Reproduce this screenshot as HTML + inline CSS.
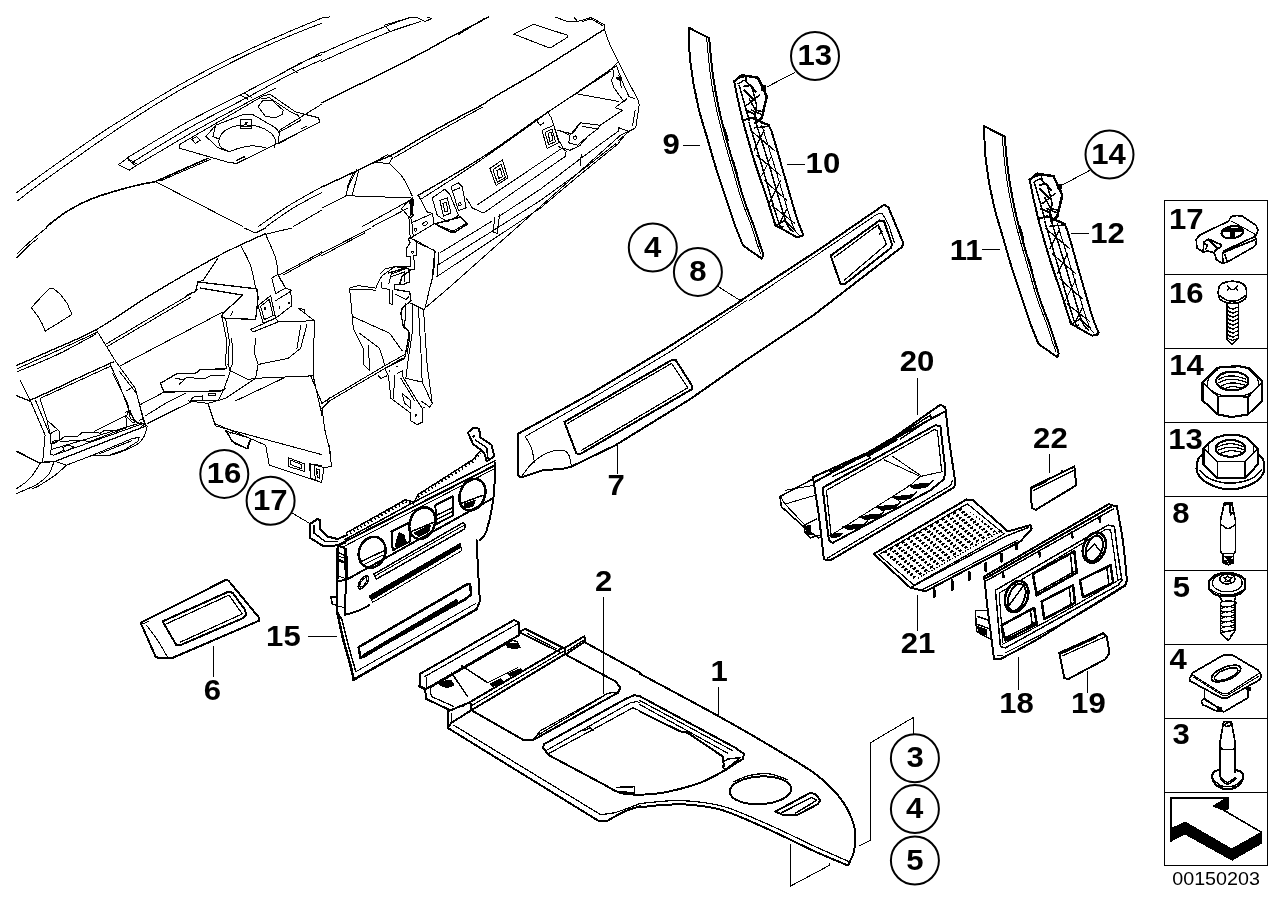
<!DOCTYPE html>
<html><head><meta charset="utf-8"><title>00150203</title>
<style>
html,body{margin:0;padding:0;background:#fff}
body{width:1288px;height:910px;overflow:hidden}
svg{display:block;will-change:transform}
text{font-family:"Liberation Sans",Arial,sans-serif;font-weight:bold;fill:#000;stroke:none}
.id{font-weight:normal}
path,circle,line,ellipse{stroke-linejoin:round;stroke-linecap:round}
</style></head><body>
<svg width="1288" height="910" viewBox="0 0 1288 910" fill="none" stroke="#000" shape-rendering="crispEdges">
<path fill="none" stroke="#000" stroke-width="1" d="M1231.7,221.1 1254.7,234.1M1193.8,677.3 1222.4,695.3 1227.4,695.3 1259.1,676.0M913.1,717.6 870.5,742.7 870.5,840.4 859.2,845.9M913.1,717.6 913.1,733.9M790.3,844.2 790.3,886.2 829.2,865.5 829.2,863.4M146.4,625.2C148.2,627.7 154.1,634.9 157.6,640.2C161.2,645.6 166.0,654.4 167.6,657.3M142.6,623.9 148.9,621.4M525.1,436.5 595.2,396.5 670.4,351.4 747.3,300.0M525.1,436.5C526.1,438.4 529.8,443.4 531.3,447.8C532.9,452.2 534.1,460.4 534.6,462.9M521.3,476.6C523.2,474.3 528.2,466.8 532.6,462.9C537.0,458.9 542.6,454.9 547.6,452.8C552.6,450.7 559.1,449.9 562.7,450.3C566.2,450.7 567.5,452.6 568.9,455.3C570.4,458.1 571.0,464.7 571.4,466.6M749.2,300.7 877.0,214.2 882.0,213.0M882.0,213.0 888.3,224.2 894.5,243.0M706.6,37.6C707.3,43.8 708.7,63.1 710.4,75.2C712.1,87.3 714.4,99.4 716.7,110.2C719.0,121.1 721.5,130.3 724.2,140.3C726.9,150.3 730.0,160.4 732.9,170.4C735.9,180.4 738.6,191.0 741.7,200.4C744.8,209.8 750.1,222.4 751.7,226.7M751.7,226.7C752.7,229.7 755.8,239.9 757.2,244.3C758.7,248.7 760.0,251.6 760.5,253.1M761.8,125.3C763.8,132.0 769.3,149.1 774.3,165.4C779.3,181.6 787.9,211.5 791.8,223.0C795.8,234.5 797.0,232.4 798.1,234.3M1002.1,136.1C1002.8,142.3 1004.2,161.6 1005.9,173.7C1007.6,185.8 1009.9,197.9 1012.2,208.7C1014.5,219.6 1017.0,228.8 1019.7,238.8C1022.4,248.8 1025.5,258.9 1028.4,268.9C1031.4,278.9 1034.1,289.5 1037.2,298.9C1040.3,308.3 1045.6,320.9 1047.2,325.2M1047.2,325.2C1048.2,328.2 1051.3,338.4 1052.7,342.8C1054.2,347.2 1055.5,350.1 1056.0,351.6M1057.3,223.8C1059.3,230.5 1064.8,247.6 1069.8,263.9C1074.8,280.1 1083.4,310.0 1087.3,321.5C1091.3,333.0 1092.5,330.9 1093.6,332.8M341.3,547.8 494.2,468.9M362.6,565.3 382.7,555.3M375.2,575.9 464.1,525.2M361.7,581.2A2.0,5.5 35 1 0 365.0,583.5A2.0,5.5 35 1 0 361.7,581.2ZM369.2,595.9 372.7,602.4 461.6,550.8 460.4,543.3 369.2,595.9M355.4,671.9 475.8,603.5M337.3,555.7 344.7,558.1M337.3,560.6 344.7,563.1M337.3,575.4 345.5,578.7M337.3,605.9 344.7,607.6M785.0,504.1 815.1,495.3M781.3,497.8 785.0,504.1 807.6,527.9M785.0,490.3 813.8,485.3M884.0,459.8 920.3,476.5 942.9,471.5M892.8,456.5 920.3,475.3M920.3,476.5 910.3,485.3M910.3,485.3 832.6,534.2M17.0,192.4C20.5,189.9 30.0,182.9 37.6,177.4C45.2,171.9 52.2,166.9 62.6,159.6C73.1,152.3 87.7,141.9 100.2,133.5C112.7,125.2 125.3,117.5 137.8,109.7C150.3,102.0 162.9,94.3 175.4,87.2C187.9,80.1 200.4,73.5 213.0,67.1C225.5,60.8 238.0,54.7 250.5,48.9C263.1,43.0 276.2,37.2 288.1,32.1C300.0,26.9 316.3,20.4 322.0,18.0M17.0,201.2C20.5,198.6 30.0,191.0 37.6,185.4C45.2,179.8 52.2,174.8 62.6,167.4C73.1,159.9 87.7,149.4 100.2,140.8C112.7,132.2 125.3,123.8 137.8,115.8C150.3,107.7 162.9,100.0 175.4,92.7C187.9,85.4 200.4,78.8 213.0,72.2C225.5,65.6 238.0,59.0 250.5,53.1C263.1,47.2 276.2,41.6 288.1,36.6C300.0,31.6 316.3,25.3 322.0,23.1M126.5,158.3C132.2,154.9 149.7,144.1 160.4,137.8C171.0,131.5 177.1,127.4 190.4,120.3C203.8,113.1 225.1,102.6 240.5,94.7C256.0,86.8 269.5,79.8 283.1,72.7C296.7,65.6 315.5,55.5 322.0,52.1M132.3,162.4C137.8,159.0 154.8,148.4 165.4,142.1C175.9,135.8 182.3,131.7 195.4,124.5C208.6,117.3 228.4,107.4 244.3,99.0C260.2,90.6 277.7,80.7 290.6,74.2C303.6,67.6 316.7,62.1 322.0,59.6M136.5,165.4C142.2,162.0 159.7,151.6 170.4,145.3C181.0,139.1 187.5,135.0 200.4,127.8C213.4,120.6 235.5,108.8 248.0,102.2C260.6,95.6 271.0,90.5 275.6,88.2M118.5,164.6 127.3,158.3 137.8,164.6 129.3,170.1ZM129.0,160.4 135.3,165.4M240.5,95.2 248.0,99.2M244.3,93.2 251.3,97.2M282.6,73.2 290.6,68.1 297.7,72.7M290.6,68.1C293.1,66.9 300.5,62.9 305.7,60.6C310.9,58.4 319.2,55.6 322.0,54.6M179.1,144.8 264.3,95.2 270.6,94.7 295.6,112.0 318.7,117.8 319.5,122.3 236.8,163.4 228.5,162.4 179.9,148.3 179.1,144.8M191.7,139.1 196.7,136.5 200.4,140.3 195.4,143.3 191.7,139.1M236.8,160.4 244.3,156.6 245.5,159.1M300.7,129.0 306.9,126.0M206.0,136.5 215.5,125.3 244.3,114.0 251.8,114.0 275.6,127.8 279.4,132.8 278.1,144.1M206.0,136.5 218.0,147.8 229.3,151.6M258.1,106.5 263.1,100.2 271.8,100.2 283.1,110.2 282.6,114.0M258.1,106.5 265.6,116.5 275.6,117.8 282.6,114.0M260.6,99.0 269.3,97.7 291.9,112.7 298.2,115.3M278.1,132.8 300.7,120.3 298.2,115.3M278.1,144.1 303.2,130.3M229.3,151.6C227.8,150.7 222.2,148.7 220.5,146.6C218.8,144.5 218.4,141.8 219.2,139.1C220.1,136.3 221.9,132.6 225.5,130.3C229.0,128.0 235.1,125.9 240.5,125.3C246.0,124.6 253.1,125.3 258.1,126.5C263.1,127.8 267.7,130.5 270.6,132.8C273.5,135.1 275.0,137.8 275.6,140.3C276.2,142.8 274.6,146.6 274.4,147.8M229.3,151.6C231.1,151.0 236.6,148.8 240.5,147.8C244.5,146.9 248.9,145.8 253.1,145.8C257.2,145.8 263.5,147.5 265.6,147.8M215.5,125.3 213.0,136.5 219.2,139.1M240.5,119.8 251.8,119.8 251.8,128.3 240.5,128.3ZM245.5,122.8A0.8,0.5 0 1 0 247.0,122.8A0.8,0.5 0 1 0 245.5,122.8ZM240.5,126.5 251.8,126.5M160.4,180.9 210.5,159.3M155.3,181.6 243.0,226.7M279.4,130.3 322.0,104.0M258.1,226.7C263.1,223.3 277.5,212.6 288.1,206.0C298.8,199.3 316.3,189.9 322.0,186.7M266.1,226.7C270.6,223.6 283.8,213.7 293.1,208.0C302.5,202.2 317.2,195.0 322.0,192.4M293.1,226.7 L322.0,210.0M17.0,253.8C19.4,251.6 26.4,244.8 31.3,240.5C36.2,236.2 43.8,230.1 46.4,228.0M17.0,257.6C18.8,255.8 24.1,250.0 27.6,246.8C31.0,243.6 35.9,239.9 37.6,238.5M31.3,307.7 40.1,298.2 49.6,288.6 53.1,288.1 60.1,294.1 67.1,303.2 71.9,314.4 58.9,322.7 45.1,331.2 42.6,324.5 37.6,315.7ZM17.0,368.8C23.0,366.1 39.2,358.9 52.6,352.8C66.1,346.6 90.2,335.4 97.7,332.0M17.0,371.8C23.8,368.9 44.6,360.7 57.6,354.5C70.7,348.3 88.9,337.8 95.2,334.5M96.5,330.2 115.3,360.8 135.3,388.4 142.8,418.4 146.6,425.9M106.5,343.8 187.9,295.6 197.9,289.4M107.7,346.3 190.4,297.4M120.3,365.8 223.0,311.9M40.1,398.4 110.2,366.3M110.2,364.5 117.8,380.8 130.3,413.4 136.5,422.2 145.3,424.7M112.7,373.3 127.8,403.4 130.3,418.4 136.5,422.2M119.0,370.8 136.5,393.4 144.1,420.9M126.5,390.9 132.8,387.1M125.3,412.2 130.3,410.9 134.0,420.9M240.5,245.0C242.2,248.5 248.0,258.4 250.5,265.6C253.1,272.8 254.7,284.4 255.6,288.1M265.6,234.3C267.3,238.2 273.5,251.2 275.6,258.1C277.7,265.0 277.7,272.7 278.1,275.6M195.4,291.9 197.9,281.9 202.9,280.6 218.0,258.1M186.7,295.6 190.4,293.1 195.4,291.9M225.5,318.2 229.3,340.7 228.0,364.5 230.5,370.8 224.2,388.4 218.0,400.9 202.9,400.9M221.7,315.7 226.7,340.7 225.5,364.5 226.7,368.8M233.0,310.7 230.5,315.7M231.8,338.2 233.0,363.3 229.3,370.8M175.4,378.3 182.9,379.6 186.7,377.8 205.5,378.3 210.5,375.8 224.2,375.8M179.1,384.6 184.2,379.6M202.9,400.9 190.4,400.9 192.9,397.1 202.9,395.9 202.9,400.9M208.0,393.4 215.5,393.4 215.5,395.9 208.0,395.9ZM145.3,415.9 165.4,403.4 185.4,393.4M147.8,423.4 192.9,400.9M140.3,404.6 164.1,392.1M250.5,329.5 275.6,318.2 278.1,322.0 253.1,332.0 250.5,329.5M255.6,338.2 254.3,353.3 258.1,364.5 255.6,378.3 248.0,379.6 230.5,370.8M258.1,364.5 288.1,358.3 300.7,348.3 306.9,324.5M278.1,322.0 314.4,320.7 313.2,375.8 255.6,378.3M298.2,308.2 314.4,320.7M290.6,289.4 291.9,305.7 275.6,318.2M298.2,308.2 304.4,309.4 304.4,313.2M313.2,375.8 322.0,415.9M255.6,378.3 225.5,398.4 208.0,403.4 187.9,400.9M283.1,378.3 235.5,400.9M300.7,325.7 296.9,348.3M271.8,278.1 278.1,274.4 285.6,288.1 275.6,293.6 271.8,278.1M258.1,305.7 270.6,295.6 275.6,318.2 263.1,323.2 258.1,305.7M260.6,306.2 269.3,299.4 273.1,315.7 264.3,319.5 260.6,306.2M264.6,308.7A0.5,1.0 0 1 0 265.6,308.7A0.5,1.0 0 1 0 264.6,308.7ZM275.6,300.7 291.9,290.6 290.6,289.4M279.1,307.7A0.3,0.5 0 1 0 279.6,307.7A0.3,0.5 0 1 0 279.1,307.7ZM288.6,302.7A0.3,0.5 0 1 0 289.1,302.7A0.3,0.5 0 1 0 288.6,302.7ZM278.1,275.6 322.0,251.8M283.1,275.1 322.0,253.6M265.6,234.3 291.9,228.0M244.3,228.0 255.6,233.0 265.6,228.0M278.1,275.6 285.6,288.1 291.9,290.6M208.0,403.4 215.5,425.9 322.0,454.7M225.5,430.9 250.5,438.5 246.8,448.5 234.3,443.5 225.5,430.9M230.1,433.5A0.4,0.5 0 1 0 230.9,433.5A0.4,0.5 0 1 0 230.1,433.5ZM310.7,375.8 322.0,403.4M319.5,403.4 322.0,414.7M215.5,423.8 265.6,445.1 269.3,465.1 322.0,482.7M226.7,430.1 231.8,441.3 248.0,448.9 250.5,440.1M288.1,457.6 304.4,463.9 304.4,471.4 288.1,466.4ZM290.6,460.1 301.9,464.6 301.9,468.9 290.6,464.6ZM309.4,463.9 322.0,465.6M309.4,463.9 310.7,478.9 322.0,482.7M314.4,465.6 315.2,479.7M317.4,472.7A0.3,0.8 0 1 0 317.9,472.7A0.3,0.8 0 1 0 317.4,472.7ZM260.6,443.1 265.6,445.1M329.0,445.1 331.5,466.4 324.0,467.6 321.5,482.7 310.2,477.7M309.5,463.9 324.0,467.6M310.2,463.9 310.2,477.7M316.5,468.9 317.3,477.7 319.8,478.2 319.3,469.7 316.5,468.9M20.0,380.0 30.1,400.0 45.1,435.1 42.6,462.1M35.7,400.7 49.5,433.9M40.1,398.8 47.0,420.1 59.5,431.4 59.5,440.1 51.4,443.9 50.7,454.5 53.9,455.2 63.9,450.2M50.1,433.9 50.7,443.9M47.0,420.1 50.1,433.9 56.4,430.1M52.0,441.4 56.4,440.4 56.6,442.6 52.4,443.9ZM60.1,440.1 63.9,437.0 77.7,436.4 82.1,432.6 94.0,432.0 100.2,433.2 104.0,430.7 114.0,430.7M60.1,442.0 77.7,440.1 90.2,441.4 126.5,427.6M94.6,431.4 125.9,415.7 126.5,427.6M51.4,449.5 141.6,422.6M53.9,455.2 144.1,423.2M62.6,447.6 68.3,445.1 73.9,447.0 65.1,451.4 62.6,447.6M129.0,410.1 126.5,416.3 132.8,422.6 135.3,422.0M139.1,420.1 142.8,419.5 145.3,423.8 141.6,426.4M147.2,426.4C146.7,428.0 145.6,433.5 144.1,436.4C142.5,439.3 140.9,441.6 137.8,443.9C134.7,446.2 129.9,448.3 125.3,450.2C120.7,452.0 115.7,454.3 110.2,455.2C104.8,456.0 95.6,455.2 92.7,455.2M92.7,455.2 132.8,438.3 139.1,437.6 137.8,441.4 124.0,450.2 110.2,454.5M99.0,453.9 131.5,440.8M55.1,461.4 66.4,465.2 92.7,455.2M40.1,463.3C38.8,465.3 35.1,472.0 32.6,475.2C30.1,478.4 27.7,480.5 25.1,482.7C22.4,484.9 18.3,487.4 16.9,488.4M53.9,462.1C53.0,464.0 51.6,470.3 48.9,474.0C46.1,477.6 42.9,480.7 37.6,484.0C32.3,487.2 20.4,491.8 16.9,493.4M66.4,465.2C64.5,466.9 59.9,471.7 55.1,475.2C50.3,478.8 41.3,484.3 37.6,486.5C33.8,488.7 33.4,488.0 32.6,488.4M322.0,18.0 329.5,17.0M322.0,53.1C327.4,50.7 343.9,43.3 354.6,38.8C365.2,34.4 376.9,29.8 385.9,26.3C394.9,22.8 404.7,19.4 408.4,18.0M408.4,18.0 417.2,17.5 424.7,21.5 431.5,18.8 427.2,17.0M322.0,61.4C327.8,58.8 345.8,50.5 357.1,45.6C368.4,40.7 379.0,35.9 389.6,31.8C400.3,27.8 415.7,23.1 421.0,21.3M385.9,26.3 390.1,32.1M384.6,25.1 412.2,17.0M458.5,34.6 484.9,18.0M394.7,157.3C400.1,154.2 416.0,144.8 427.2,138.3C438.5,131.8 453.1,123.4 462.3,118.3C471.5,113.1 479.0,109.1 482.4,107.2M373.4,162.4 387.6,154.8 392.7,157.3 389.1,163.4 373.4,162.4M389.1,163.4C391.3,165.6 398.3,171.2 402.2,176.6C406.0,182.1 410.5,192.7 412.2,195.9M345.8,195.7 410.9,197.9M357.1,169.1 348.3,186.7 345.8,195.4M353.3,172.9 347.1,187.4M358.8,169.9 352.1,195.7M322.0,208.0 345.8,195.9M362.1,226.7 409.7,200.4M372.1,226.7 407.2,208.5M555.0,17.0 568.8,22.0 577.6,21.5 573.8,17.0M577.6,21.5 591.3,17.5 604.6,25.1 603.9,30.1M582.6,21.5 591.3,18.8 602.6,25.6M513.7,34.1 533.7,24.3 567.0,35.1 567.0,37.6 550.0,48.1ZM604.6,30.1C605.5,32.6 608.0,40.1 610.1,45.1C612.3,50.1 614.5,53.9 617.6,60.1C620.8,66.4 625.6,76.2 628.9,82.7C632.3,89.2 636.2,96.3 637.7,99.0M637.7,99.0 639.2,105.2 635.7,127.8 628.9,131.5 618.9,127.8 618.9,131.5M628.9,131.5 618.9,140.3M617.6,62.6 612.6,67.6 613.9,75.2 611.4,80.2 613.9,87.7 623.9,101.5 626.4,99.0M616.4,65.6 622.7,82.7 628.9,96.5 635.2,99.0M618.9,75.2 621.4,87.7M626.4,99.0 615.1,107.7 622.7,110.2 600.1,125.3 580.1,122.8 570.0,135.3 558.8,130.3M577.6,94.0 618.9,101.5M600.1,125.3 597.6,129.0 582.6,126.5M635.2,110.2 632.7,125.3M421.0,199.2C429.5,193.6 454.0,178.3 472.3,165.9C490.7,153.4 518.5,133.6 531.2,124.5C543.9,115.5 545.8,113.7 548.7,111.5M548.7,111.5 610.1,71.4M432.2,197.9 444.8,189.2 449.8,194.2 458.5,215.5 447.3,221.7 437.3,215.5 432.2,197.9M439.8,200.4 447.3,197.9 451.0,213.0 443.5,216.0ZM443.0,203.4 446.3,202.4 448.0,211.0 444.8,212.0ZM451.0,186.7 458.5,182.9 462.3,186.7 466.1,208.0 458.5,210.5 451.0,186.7M453.5,190.4 459.8,187.9M458.5,204.2A1.3,1.8 0 1 0 461.1,204.2A1.3,1.8 0 1 0 458.5,204.2ZM466.1,197.9 472.3,208.0 483.6,213.0 565.0,156.6 566.3,151.1 558.8,146.6M477.3,204.9 562.5,147.8M489.9,168.4 502.4,159.9 507.9,177.9 496.1,185.4ZM492.9,169.9 501.1,164.1 505.4,177.4 497.4,182.4ZM496.9,170.4 500.4,168.6 502.4,176.9 498.6,178.4ZM535.0,120.3 542.5,116.5 547.5,111.5 551.3,117.8 558.8,140.3 562.5,146.6M542.0,130.3 553.8,125.3 558.8,142.8 547.0,148.3ZM545.0,132.3 552.0,129.0 555.5,141.6 548.7,144.8ZM548.0,133.3 551.3,132.0 553.0,140.3 550.0,141.6ZM536.2,119.8 540.0,125.3 543.7,122.8M557.5,130.3 572.5,134.0 580.1,123.3M570.0,135.3 568.8,142.8 577.6,145.3 587.6,136.5M573.8,137.8A1.3,1.5 0 1 0 576.3,137.8A1.3,1.5 0 1 0 573.8,137.8ZM562.5,147.8 570.0,150.3 580.1,145.3 587.6,136.5 597.6,129.0M581.3,154.1 580.1,165.4M322.0,253.1 370.9,228.0M322.0,255.6 364.6,233.0M415.2,241.8 434.7,250.5 432.2,278.1 424.7,309.4M349.6,288.1 358.3,285.6 375.9,288.1 378.4,281.9 382.1,275.6 394.7,266.8 407.2,268.1M350.8,289.4 375.9,290.1M349.6,288.1 353.3,328.2 363.3,348.3 363.3,364.5 369.6,370.8M353.3,316.9 389.6,333.2 402.2,350.8M359.6,333.2 379.6,348.3 384.6,364.5M368.4,345.8 369.6,369.6M380.9,281.9 382.1,288.1 389.6,289.4 389.6,303.2 392.2,304.4 392.2,290.6M390.9,276.9 404.7,271.8 404.7,281.9M395.9,294.4 405.9,299.4 408.4,296.9M405.9,303.2 404.7,327.0 409.7,333.2 409.7,338.2 407.2,353.3M423.5,309.4 427.2,365.8 432.2,403.4 429.7,407.1 421.0,400.9M412.2,305.7 412.2,333.2 408.4,358.3 405.9,378.3 422.2,382.1 432.2,403.4M418.5,308.2 421.0,353.3 422.2,382.1M404.7,354.5 384.6,365.8 329.5,398.4 322.0,403.4M402.2,358.3 329.5,400.9 322.0,408.4M329.5,397.1 327.0,402.1M322.0,408.4 324.5,428.4 330.8,454.7M388.4,375.8 390.9,398.4 410.9,413.4 410.9,420.9 417.2,424.7 422.2,422.2 422.2,408.4 424.7,407.1M394.7,375.8 393.4,398.4M402.2,393.4 410.9,400.9 410.9,408.4 404.7,403.4 402.2,393.4M415.6,415.4A0.3,0.7 0 1 0 416.3,415.4A0.3,0.7 0 1 0 415.6,415.4ZM397.2,373.3 402.2,370.8 402.2,375.8 417.2,400.9 422.2,408.4M400.9,378.3 414.7,400.9M389.3,370.8A0.3,0.3 0 1 0 390.0,370.8A0.3,0.3 0 1 0 389.3,370.8ZM396.8,366.3A0.3,0.3 0 1 0 397.5,366.3A0.3,0.3 0 1 0 396.8,366.3ZM378.4,375.8 380.9,378.3 387.1,375.8M384.6,368.3 388.4,375.8M440.2,252.7 491.5,221.4M499.0,216.4 541.0,188.8 581.7,157.7 618.0,131.4M437.6,265.2 492.8,230.8 541.0,200.1 580.4,171.5 615.5,143.9M437.0,276.5 541.0,207.6 577.9,176.5 618.0,143.9 626.8,132.7M423.5,309.4 450.1,286.7 541.0,206.0 620.5,135.2 635.5,127.7M401.3,208.8 406.9,202.6 411.3,199.4 413.2,196.9M401.3,208.8 403.2,210.1 408.2,216.4 409.4,220.1 410.1,237.6 408.2,238.9 410.1,242.7 406.9,247.7 406.9,256.4 410.7,256.4 410.7,266.5 405.7,267.1M411.3,199.4 413.2,215.1 410.7,217.6 408.2,216.4M418.2,195.1 427.6,212.6 432.6,213.2 433.9,223.9 413.2,236.4 410.7,238.3M410.7,217.6 411.9,222.6 430.1,214.5 432.6,213.2M411.9,222.6 413.2,236.4M422.8,224.7A2.5,1.5 -25 1 0 427.4,222.6A2.5,1.5 -25 1 0 422.8,224.7ZM414.5,229.9A1.0,1.5 0 1 0 416.5,229.9A1.0,1.5 0 1 0 414.5,229.9ZM410.7,238.3 417.6,241.4 435.1,251.4 433.9,270.2 431.4,283.4M416.3,241.4 416.3,255.2 413.8,255.8 414.5,269.6 408.8,270.2M411.3,252.1A1.0,1.0 0 1 0 413.3,252.1A1.0,1.0 0 1 0 411.3,252.1ZM438.9,252.7 437.0,276.5M437.6,225.1 450.2,230.1 455.2,230.1 465.2,223.9M494.6,217.0 493.4,232.0 497.1,233.3 499.6,214.5M380.0,274.0 385.0,269.0 395.0,266.5 408.8,266.5M388.8,283.4 391.3,274.0 405.1,269.0"/>
<path fill="none" stroke="#000" stroke-width="1.2" d="M1227.4,285.5 1229.6,288.0 1227.4,290.5M1237.6,285.5 1235.5,288.0 1237.6,290.5M1229.6,288.0 1231.4,289.6 1233.6,289.6 1235.5,288.0M1226.8,306.0C1227.7,306.5 1230.4,308.6 1232.3,308.8C1234.3,308.9 1237.5,307.1 1238.6,306.8M1226.8,310.0C1227.7,310.5 1230.4,312.6 1232.3,312.7C1234.3,312.9 1237.5,311.1 1238.6,310.7M1226.8,314.0C1227.7,314.4 1230.4,316.6 1232.3,316.7C1234.3,316.8 1237.5,315.1 1238.6,314.7M1226.8,318.0C1227.7,318.4 1230.4,320.6 1232.3,320.7C1234.3,320.8 1237.5,319.0 1238.6,318.7M1226.8,321.9C1227.7,322.4 1230.4,324.5 1232.3,324.7C1234.3,324.8 1237.5,323.0 1238.6,322.7M1226.8,325.9C1227.7,326.4 1230.4,328.5 1232.3,328.6C1234.3,328.8 1237.5,327.0 1238.6,326.6M1226.8,329.9C1227.7,330.3 1230.4,332.5 1232.3,332.6C1234.3,332.7 1237.5,331.0 1238.6,330.6M1226.8,333.9C1227.7,334.3 1230.4,336.5 1232.3,336.6C1234.3,336.7 1237.5,334.9 1238.6,334.6M1226.8,337.8C1227.7,338.2 1230.4,340.3 1232.3,340.3C1234.3,340.4 1237.5,338.4 1238.6,338.1M1228.6,307.9 L1233.6,309.5M1228.6,311.9 L1233.6,313.5M1228.6,315.8 L1233.6,317.5M1228.6,319.8 L1233.6,321.4M1228.6,323.8 L1233.6,325.4M1228.6,327.8 L1233.6,329.4M1228.6,331.7 L1233.6,333.4M1228.6,335.7 L1233.6,337.3M1207.5,387.2C1207.7,385.8 1207.1,381.4 1208.7,378.5C1210.4,375.6 1216.0,371.3 1217.4,369.8M1258.4,386.0C1258.2,384.6 1258.8,380.7 1257.2,377.9C1255.5,375.1 1249.9,370.7 1248.5,369.2M1207.5,387.2C1209.2,388.4 1213.3,392.6 1217.4,394.1C1221.6,395.6 1227.2,396.2 1232.3,396.2C1237.5,396.2 1244.1,395.8 1248.5,394.1C1252.8,392.4 1256.8,387.3 1258.4,386.0M1218.1,379.8C1219.2,379.3 1222.1,377.3 1224.9,376.7C1227.7,376.1 1231.3,375.6 1234.8,376.1C1238.4,376.5 1244.1,378.6 1246.0,379.2M1218.7,382.9C1219.9,382.4 1223.2,380.3 1226.1,379.8C1229.0,379.2 1232.7,379.1 1236.1,379.5C1239.5,379.9 1244.9,381.8 1246.6,382.3M1221.2,386.0C1222.4,385.5 1225.9,383.7 1228.6,383.3C1231.3,382.8 1234.5,382.9 1237.3,383.3C1240.1,383.6 1244.0,385.0 1245.4,385.4M1224.9,388.5C1226.1,388.2 1229.4,386.7 1232.3,386.6C1235.2,386.5 1240.6,387.7 1242.3,387.9M1208.7,452.8 1208.5,446.0M1253.5,453.4 1253.7,446.0M1217.4,447.2C1218.7,446.7 1222.0,444.9 1224.9,444.3C1227.8,443.8 1231.6,443.7 1234.8,444.1C1238.0,444.5 1242.6,446.4 1244.1,446.8M1218.1,450.3C1219.4,449.8 1223.1,448.0 1226.1,447.6C1229.1,447.1 1233.0,447.2 1236.1,447.6C1239.2,448.0 1243.3,449.6 1244.8,450.0M1220.5,453.4C1221.9,453.0 1225.8,451.3 1228.6,450.9C1231.4,450.6 1234.8,450.9 1237.3,451.3C1239.8,451.6 1242.5,452.7 1243.5,453.0M1203.5,464.6 1215.0,476.4 1217.4,478.2M1257.8,464.6 1247.3,476.4 1244.8,478.2M1212.7,582.8A14.7,8.4 0 1 0 1242.0,582.8A14.7,8.4 0 1 0 1212.7,582.8ZM1223.7,577.8 1226.1,579.7 1224.9,581.5 1228.0,580.9 1230.5,582.1 1229.9,579.7 1232.3,577.8 1229.2,577.8 1227.4,575.9 1226.1,577.8 1223.7,577.8M1210.6,589.6C1212.2,590.3 1215.9,593.2 1219.9,594.0C1224.0,594.7 1230.7,594.8 1234.8,594.0C1239.0,593.1 1243.1,589.8 1244.8,589.0M1220.5,603.3C1220.9,603.0 1220.1,601.7 1222.4,601.4C1224.7,601.1 1232.0,601.0 1234.2,601.4C1236.4,601.8 1236.6,603.0 1235.5,603.9C1234.3,604.8 1229.9,606.7 1227.4,607.0C1224.9,607.3 1221.7,606.0 1220.5,605.8M1220.5,608.9C1221.7,608.4 1225.0,606.4 1227.4,606.4C1229.8,606.4 1235.1,607.9 1235.1,608.9C1235.1,609.8 1229.8,611.7 1227.4,612.0C1225.0,612.3 1221.7,610.9 1220.5,610.7M1220.5,613.8C1221.7,613.4 1225.0,611.3 1227.4,611.3C1229.8,611.3 1235.1,612.9 1235.1,613.8C1235.1,614.8 1229.8,616.6 1227.4,616.9C1225.0,617.2 1221.7,615.9 1220.5,615.7M1220.5,618.8C1221.7,618.4 1225.0,616.3 1227.4,616.3C1229.8,616.3 1235.1,617.9 1235.1,618.8C1235.1,619.7 1229.8,621.6 1227.4,621.9C1225.0,622.2 1221.7,620.9 1220.5,620.7M1220.5,623.8C1221.7,623.3 1225.0,621.3 1227.4,621.3C1229.8,621.3 1235.1,622.8 1235.1,623.8C1235.1,624.7 1229.8,626.6 1227.4,626.9C1225.0,627.2 1221.7,625.8 1220.5,625.6M1220.5,628.7C1221.7,628.3 1225.0,626.2 1227.4,626.2C1229.8,626.2 1235.1,627.8 1235.1,628.7C1235.1,629.7 1229.8,631.5 1227.4,631.8C1225.0,632.1 1221.7,630.8 1220.5,630.6M1220.5,633.1C1221.7,632.8 1225.0,631.6 1227.4,631.2C1229.8,630.8 1234.5,629.9 1235.1,630.6C1235.7,631.3 1231.8,634.7 1231.1,635.6M1192.6,675.0 1222.4,693.7 1227.4,693.7 1258.4,673.8M425.1,676.4 517.8,623.8M426.3,688.9 426.3,677.7M430.1,688.2 431.3,696.5 453.9,706.5M451.4,714.0 451.4,722.8M470.2,706.5 564.1,650.9M527.8,633.8 556.6,648.9M567.4,650.9 584.9,639.3M462.6,706.5 555.3,652.6M487.7,682.7 517.8,667.6M532.8,740.3 540.3,730.8 608.0,693.2 618.0,692.2M535.3,736.5 602.9,696.5M453.9,725.3 600.4,814.5M600.4,814.5C602.9,814.1 608.8,814.3 615.5,812.5C622.2,810.6 636.4,804.9 640.5,803.4M546.6,750.3 630.5,702.7 636.8,701.5 640.0,703.0M547.8,754.1 633.0,707.7 640.0,711.0M640.0,803.6C645.0,803.1 660.5,801.1 670.1,800.8C679.7,800.5 688.0,800.6 697.6,801.8C707.2,803.0 715.6,803.9 727.7,807.8C739.8,811.7 755.7,818.9 770.3,825.4C784.9,831.8 802.2,840.6 815.4,846.7C828.5,852.7 843.6,859.2 849.2,861.7M640.0,700.6 732.7,750.7M640.0,704.6 727.7,753.2M734.0,781.5C736.7,780.5 744.2,776.5 750.2,775.3C756.3,774.0 764.0,773.2 770.3,774.0C776.5,774.8 784.9,778.8 787.8,779.8M166.4,623.9 229.0,595.1 242.3,613.9 180.2,642.2M567.7,423.3 671.6,363.4 687.9,387.7 581.5,450.3M834.4,257.3 878.3,224.7 886.5,244.3 844.4,280.1M750.5,130.3 774.3,150.3M764.3,130.3 754.2,150.3M756.7,155.3 780.5,175.4M771.8,155.3 761.8,175.4M764.3,180.4 786.8,200.4M780.5,180.4 769.3,202.9M771.8,205.5 794.3,223.0M786.8,209.2 779.3,224.2M1046.0,228.8 1069.8,248.8M1059.8,228.8 1049.7,248.8M1052.2,253.8 1076.0,273.9M1067.3,253.8 1057.3,273.9M1059.8,278.9 1082.3,298.9M1076.0,278.9 1064.8,301.4M1067.3,304.0 1089.8,321.5M1082.3,307.7 1074.8,322.7M999.1,593.2 1105.6,529.4 1110.6,530.1 1114.4,555.2 1117.6,579.0M999.1,593.2 1002.9,642.9M1002.9,644.1C1011.6,639.5 1035.9,627.4 1055.5,616.5C1075.1,605.7 1109.8,585.2 1120.6,579.0M1005.4,652.9C1014.6,648.1 1040.7,635.3 1060.5,624.1C1080.3,612.8 1113.7,591.7 1124.4,585.2M997.4,655.4 L1002.9,655.4M1062.5,655.9 1104.9,636.8M827.6,558.0 950.9,485.3 952.4,480.3M826.4,490.3 934.1,429.7 937.4,430.7 941.6,470.3M826.4,490.3 831.4,537.9M1033.1,490.8 1073.9,470.3M878.9,554.7 967.3,503.8 1004.1,533.9 913.9,585.2 878.9,554.7M921.5,590.2 1017.9,540.1"/>
<path fill="none" stroke="#000" stroke-width="1.3" d="M17.0,365.3C22.5,362.9 36.9,356.7 50.1,350.8C63.3,344.8 79.8,338.7 96.5,329.5C113.2,320.2 130.1,307.4 150.3,295.1C170.6,282.9 198.8,266.3 218.0,256.1C237.2,245.8 257.6,237.3 265.6,233.5M28.8,400.9C33.2,398.9 46.1,393.0 55.1,388.9C64.1,384.7 73.5,380.1 82.7,375.8C91.9,371.6 105.0,365.6 110.2,363.3C115.5,361.0 113.4,362.3 114.0,362.0M197.9,281.9 256.8,288.9 258.1,298.2 255.6,319.5 225.5,318.2M200.4,288.1 243.0,295.1 223.0,313.2 221.7,316.9 225.5,318.2M160.4,383.3 176.6,373.8 195.4,373.3 200.4,369.6 226.7,368.8M160.4,383.3 164.1,392.1 220.5,390.9 225.5,388.4M16.9,395.7 30.1,401.3M55.1,461.4 146.6,425.7M417.2,195.9C422.2,193.0 437.3,184.3 447.3,178.4C457.3,172.5 467.3,166.7 477.3,160.4C487.4,154.0 497.8,146.9 507.4,140.3C517.0,133.7 523.7,128.5 535.0,120.8C546.2,113.0 561.7,103.0 575.1,94.0C588.4,84.9 608.5,71.0 615.1,66.4M388.4,273.1 404.7,268.1 409.7,269.3 409.7,281.9 403.4,284.4 394.7,284.4 394.7,289.4 409.7,291.9 410.9,300.7 402.2,308.2 400.9,313.2 403.4,327.0 408.4,330.7 408.4,338.2 404.7,358.3 384.6,368.3M410.9,303.2 423.5,309.4"/>
<path fill="none" stroke="#000" stroke-width="1.4" d="M322.0,102.7C326.2,100.6 338.7,94.3 347.1,90.2C355.4,86.1 363.8,82.3 372.1,78.2C380.5,74.1 388.4,70.1 397.2,65.6C405.9,61.2 416.4,55.8 424.7,51.4C433.1,46.9 440.6,42.5 447.3,38.8C454.0,35.2 457.9,33.2 464.8,29.6C471.7,25.9 484.6,19.1 488.6,17.0M322.0,186.9C326.2,185.0 338.7,179.3 347.1,175.4C355.4,171.5 364.6,166.8 372.1,163.4C379.6,159.9 383.8,159.2 392.2,154.8C400.5,150.5 413.9,142.1 422.2,137.3C430.6,132.5 435.6,129.7 442.3,126.0C448.9,122.4 455.6,118.8 462.3,115.3C469.0,111.7 476.9,107.9 482.4,104.7C487.8,101.6 486.5,101.5 494.9,96.5C503.2,91.5 519.5,82.5 532.5,74.7C545.4,66.9 560.6,57.1 572.5,49.6C584.5,42.1 598.6,32.9 603.9,29.6"/>
<path fill="none" stroke="#000" stroke-width="1.5" d="M1204.4,243.4 1207.5,245.3 1205.6,249.0M1208.7,239.7 1213.7,244.7 1217.4,248.4M1227.4,262.0 1224.9,254.6M1219.3,295.5C1220.7,296.3 1224.4,299.6 1227.4,300.4C1230.4,301.3 1234.3,301.3 1237.3,300.4C1240.4,299.6 1244.4,296.3 1245.8,295.5M1226.8,303.5 1226.8,339.6 1232.3,344.5M1238.6,303.5 1238.6,337.7 1232.3,344.5M1202.5,382.3 1207.5,387.2 1218.1,396.6 1232.3,395.9 1247.9,397.2 1258.4,386.0 1262.4,381.6M1218.1,396.6 1218.1,414.6M1247.9,397.2 1247.9,414.6M1203.5,448.4 1208.7,452.8 1217.4,461.5 1244.8,461.5 1253.5,453.4 1257.8,449.1M1217.4,461.5 1217.4,478.2M1244.8,461.5 1244.8,478.2M1200.0,470.2C1201.7,471.6 1205.0,476.7 1210.0,478.9C1215.0,481.0 1223.0,483.2 1229.9,483.2C1236.7,483.2 1245.7,481.0 1251.0,478.9C1256.3,476.7 1259.8,471.6 1261.5,470.2M1221.2,524.5C1222.3,525.2 1225.7,528.6 1228.0,528.6C1230.3,528.7 1233.7,525.5 1234.8,524.9M1222.7,553.7 1233.6,553.7M1224.9,505.0 1228.6,503.8 1230.5,505.7M1219.7,579.0A7.7,5.0 0 1 0 1235.1,579.0A7.7,5.0 0 1 0 1219.7,579.0ZM1219.9,597.1 1222.4,601.4 1220.5,603.3 1220.5,633.1 1228.6,640.5M1235.5,597.1 1234.2,601.4 1235.1,603.3 1235.1,630.6 1228.6,640.5M1214.6,678.8A12.4,4.7 -22 1 0 1237.7,669.5A12.4,4.7 -22 1 0 1214.6,678.8ZM1224.3,724.9 1227.4,722.7 1231.1,722.4 1229.9,725.8 1225.5,726.4 1224.3,724.9M1220.5,747.5 1222.4,749.4 1233.6,749.4 1234.8,747.5M1220.5,777.4C1221.7,778.2 1225.0,782.3 1227.4,782.3C1229.8,782.4 1233.8,778.4 1235.1,777.6M1220.5,779.2C1221.7,780.0 1224.8,784.2 1227.4,784.2C1230.0,784.1 1234.6,779.7 1236.1,778.8M1214.7,781.1C1215.8,781.9 1219.1,784.9 1221.2,785.8C1223.3,786.7 1225.1,786.7 1227.4,786.7C1229.7,786.6 1232.6,786.4 1234.8,785.4C1237.1,784.5 1239.8,781.8 1240.8,781.1M520.3,632.6 560.4,652.6M525.3,628.8 520.3,631.3M430.1,687.7 512.7,640.1 517.8,642.1M451.4,672.7 467.6,696.5M461.4,665.6 487.7,682.7M616.7,787.4 634.3,786.7 634.3,792.9 620.5,791.7M584.2,730.3 590.4,727.8 592.9,730.3M723.9,761.5 727.7,759.0 740.2,757.7 726.4,769.0 722.7,767.7 723.9,761.5M781.6,812.8 811.6,797.3 816.6,800.3 795.3,813.3M878.3,228.0 882.0,231.8 879.5,234.3M738.0,83.9 744.2,80.2 751.7,86.4 756.7,105.2 754.2,117.8M739.2,85.2 749.2,120.3M744.2,90.2 754.2,100.2M746.7,105.2 759.3,95.2M751.7,110.2 760.5,114.0M740.5,77.7 745.5,76.4 746.7,81.4M749.2,99.0 755.5,110.2 761.8,111.5M749.2,122.8C751.3,129.9 757.0,149.1 761.8,165.4C766.6,181.6 774.5,210.3 778.0,220.5C781.6,230.7 782.2,225.7 783.1,226.7M755.5,121.5C757.8,128.8 764.3,148.9 769.3,165.4C774.3,181.9 781.6,209.4 785.6,220.5C789.5,231.5 791.8,229.9 793.1,231.8M754.2,127.8 768.0,126.5M776.8,225.5 784.3,220.5 794.3,229.3M1033.5,182.4 1039.7,178.7 1047.2,184.9 1052.2,203.7 1049.7,216.3M1034.7,183.7 1044.7,218.8M1039.7,188.7 1049.7,198.7M1042.2,203.7 1054.8,193.7M1047.2,208.7 1056.0,212.5M1036.0,176.2 1041.0,174.9 1042.2,179.9M1044.7,197.5 1051.0,208.7 1057.3,210.0M1044.7,221.3C1046.8,228.4 1052.5,247.6 1057.3,263.9C1062.1,280.1 1070.0,308.8 1073.5,319.0C1077.1,329.2 1077.7,324.2 1078.6,325.2M1051.0,220.0C1053.3,227.3 1059.8,247.4 1064.8,263.9C1069.8,280.4 1077.1,307.9 1081.1,319.0C1085.0,330.0 1087.3,328.4 1088.6,330.3M1049.7,226.3 1063.5,225.0M1072.3,324.0 1079.8,319.0 1089.8,327.8M313.8,525.2 313.8,532.8 325.1,541.5 337.6,541.5M346.4,532.8 400.2,502.7 405.2,499.7 414.0,502.2 417.8,494.7 472.9,459.6 480.4,450.8M345.1,539.5 419.0,499.4 495.4,460.6M337.6,552.3 345.6,555.8M337.6,559.1 345.9,562.3M360.9,561.6 383.9,550.8M411.5,531.5 432.8,522.7M461.6,503.2 482.9,495.2M436.5,515.2 452.8,507.7M437.8,519.0 452.8,511.5M373.9,574.1 462.9,522.7 465.4,524.5 464.6,529.0 376.4,579.1ZM360.5,580.4A3.5,7.5 35 1 0 366.3,584.4A3.5,7.5 35 1 0 360.5,580.4ZM473.1,436.3A0.5,0.8 0 1 0 474.1,436.3A0.5,0.8 0 1 0 473.1,436.3ZM475.4,440.1 486.7,447.6 487.9,458.1M341.4,617.5C342.7,622.4 346.5,638.4 348.8,647.1C351.2,655.9 354.3,666.4 355.4,670.2M330.7,596.9 336.5,596.9 336.5,605.1 332.4,604.3ZM986.6,580.7 1113.1,509.1M995.4,590.2 1108.1,525.1 1114.4,526.4 1118.1,555.2 1121.9,580.2 1118.1,585.2 1005.4,647.9 1000.4,646.6 995.4,590.2M1009.1,605.3 1022.9,586.5M1086.8,551.4 1094.3,543.9 1101.8,552.7M1070.5,553.9 1072.5,574.0M1036.7,592.7 1074.3,571.5M1069.3,587.7 1071.0,604.0M1106.9,567.7 1108.9,584.0M1030.4,610.3 1032.4,625.8M1005.4,637.8 1035.5,622.3M975.3,610.3 987.8,610.3M975.3,610.3 976.6,631.6 990.4,639.1M977.8,616.5 989.1,620.3M976.6,624.1 990.4,629.1M830.1,471.5 869.0,454.0 870.2,458.3 832.6,476.5M899.0,435.2 930.4,415.2 931.6,418.2 900.3,439.0M934.1,408.9 940.4,405.6M812.6,479.1 780.0,496.6 781.3,506.6 807.6,530.4 818.9,537.9M803.8,525.4 816.4,519.1M803.8,525.4 805.1,532.9 810.1,537.9 818.9,535.4M909.1,485.8 930.4,483.3 932.9,480.3M892.8,497.3 914.1,494.8 916.6,491.6M876.5,507.4 897.8,504.9 900.3,501.6M859.7,516.9 881.5,514.1 884.0,510.9M842.7,526.7 864.7,524.2 867.2,520.9M1061.6,470.8A0.3,0.3 0 1 0 1062.1,470.8A0.3,0.3 0 1 0 1061.6,470.8ZM1041.6,482.3A0.3,0.3 0 1 0 1042.1,482.3A0.3,0.3 0 1 0 1041.6,482.3ZM910.2,587.7 1005.4,536.4 1027.9,527.6M16.9,451.4 38.8,462.7 53.9,461.4M435.1,223.9 460.2,217.0 467.7,223.9 455.2,232.0 450.2,232.0 435.1,223.9M400.0,283.4 401.9,276.5 410.7,270.2"/>
<path fill="none" stroke="#000" stroke-width="1.5" stroke-dasharray="1.5,1.5" style="stroke-linecap:butt" d="M918.0,578.1 1001.9,530.3"/>
<path fill="none" stroke="#000" stroke-width="1.6" d="M1223.7,810.2 1261.5,832.3M46.4,226.7C49.9,224.1 59.9,215.7 67.6,211.0C75.4,206.2 82.3,202.4 92.7,198.4C103.1,194.4 119.8,189.7 130.3,186.9C140.7,184.1 151.2,182.5 155.3,181.6M155.3,181.6 208.0,158.3"/>
<path fill="none" stroke="#000" stroke-width="1.7" d="M1196.3,239.7 1199.4,235.3 1228.6,221.1 1231.1,216.7 1236.1,215.5 1242.3,216.1 1256.0,225.4 1257.8,229.8 1257.2,233.5 1254.7,236.6 1256.6,239.1 1256.0,244.7 1253.5,247.1 1227.4,262.0 1222.4,263.3 1216.2,259.6 1215.0,254.6 1213.7,252.7 1207.5,250.9 1203.2,252.1 1196.9,247.8 1196.3,239.7M1254.7,236.6 1223.7,250.9 1222.4,254.6 1223.0,262.7M1203.2,252.1 1203.8,242.2 1208.7,239.1 1221.2,244.7 1220.5,247.4 1217.4,248.4 1213.7,252.7M1224.3,252.1 1256.6,239.1M1218.3,293.0C1218.3,290.7 1218.4,287.4 1219.9,285.5C1221.4,283.7 1224.5,282.4 1227.4,281.8C1230.3,281.2 1234.4,281.2 1237.3,281.8C1240.2,282.4 1243.2,283.7 1244.8,285.5C1246.3,287.4 1246.6,290.7 1246.6,293.0C1246.6,295.3 1246.3,297.5 1244.8,299.2C1243.2,300.8 1240.2,302.3 1237.3,302.9C1234.4,303.5 1230.3,303.5 1227.4,302.9C1224.5,302.3 1221.4,300.8 1219.9,299.2C1218.4,297.5 1218.3,295.3 1218.3,293.0ZM1224.3,503.2 1231.7,502.6 1235.5,520.6 1235.5,551.6 1233.6,554.1 1233.6,562.8 1228.6,564.7 1223.0,562.8 1222.7,554.1 1220.5,551.6 1220.5,520.6 1224.3,503.2M1231.7,503.2 1229.9,506.3 1230.5,515.0 1232.6,512.5M1192.6,672.9 1223.7,654.9 1232.3,654.9 1258.4,670.4 1261.5,676.0 1259.7,679.8 1227.4,697.8 1221.2,697.8 1190.1,681.0 1189.5,678.5 1192.6,672.9M1211.7,679.4A15.5,6.5 -22 1 0 1240.5,667.7A15.5,6.5 -22 1 0 1211.7,679.4ZM1204.4,690.9 1204.4,698.4 1220.5,709.6 1223.7,712.0 1247.9,697.8 1247.9,687.8M1201.3,700.9 1203.8,699.0 1217.4,707.1 1219.3,709.6 1217.4,711.4 1202.5,704.6 1201.3,700.9M1223.7,721.7 1231.4,721.5 1235.1,742.6 1235.1,772.4M1223.7,721.7 1219.9,742.6 1219.9,776.7"/>
<path fill="none" stroke="#000" stroke-width="1.8" d="M1171.0,841.1 1171.0,797.9 1228.6,797.9"/>
<path fill="none" stroke="#000" stroke-width="2" d="M420.0,673.9 514.0,620.0 519.0,622.5 519.0,635.1 426.3,688.9 420.0,686.4 420.0,673.9M418.8,686.4 425.1,689.7 426.3,699.0 450.1,710.2M447.6,711.5 468.9,702.7 471.4,704.0 471.4,710.2 451.4,722.8 447.6,727.8 447.6,711.5M468.9,702.7 562.9,647.6 565.4,648.9 565.4,653.9 471.4,710.2M525.3,628.8 562.9,647.6M565.4,647.6 584.2,636.3 585.4,641.3 566.6,653.9M471.4,710.2 524.0,740.3 532.8,740.3 618.0,692.7 620.5,687.7 615.5,681.4 566.6,655.1M447.6,727.8 597.9,820.5 608.0,820.5M608.0,820.5C610.9,818.9 620.1,813.3 625.5,811.0C630.9,808.6 638.0,807.0 640.5,806.2M585.4,642.6 640.5,672.9M542.8,747.8 544.1,744.1 625.5,699.0 634.3,695.2 640.0,696.2M542.8,747.8 549.1,755.3 605.5,785.4M605.5,785.4C608.0,786.7 614.7,791.3 620.5,792.9C626.2,794.5 636.8,794.6 640.0,794.9M640.0,673.8C653.2,680.9 696.4,703.8 718.9,716.4C741.5,728.9 759.2,739.3 775.3,748.9C791.4,758.5 804.9,766.3 815.4,774.0C825.8,781.7 832.3,788.8 837.9,795.3C843.6,801.8 846.4,807.0 849.2,812.8C852.0,818.7 854.1,824.1 855.0,830.4C855.8,836.6 855.4,844.6 854.2,850.4C853.1,856.3 849.0,862.9 848.0,865.5M640.0,807.3C644.2,806.9 656.7,805.2 665.1,804.8C673.4,804.4 680.5,803.9 690.1,804.8C699.7,805.7 710.2,806.5 722.7,810.3C735.2,814.2 749.8,821.0 765.3,827.9C780.7,834.8 801.6,845.4 815.4,851.7C829.2,857.9 842.5,863.2 848.0,865.5M640.0,696.3 735.2,747.7 744.0,754.0 742.7,759.0 725.2,770.2M725.2,770.2C721.0,772.3 710.2,779.1 700.1,782.8C690.1,786.4 675.1,790.3 665.1,792.3C655.0,794.3 644.2,794.4 640.0,794.8M640.0,711.4 680.1,731.4 687.6,732.7 722.7,756.5 723.9,766.5M729.7,791.9A30.8,13.8 -3 1 0 791.3,788.7A30.8,13.8 -3 1 0 729.7,791.9ZM775.3,811.6 810.4,792.8 815.4,794.0 820.4,800.3 817.9,804.1 796.6,815.3 784.1,815.3 775.3,811.6M140.6,622.7 226.5,579.6 229.0,581.3 259.1,617.7 259.1,620.7 172.7,657.8 158.9,658.3 155.6,656.5 140.6,622.7M162.6,621.4 229.0,591.4 232.8,593.1 245.3,610.2 245.8,615.2 242.8,618.2 180.2,645.2 176.4,645.2 162.6,621.4M517.6,434.0 590.2,394.0 665.4,348.9 741.3,300.8M517.6,434.0 517.6,475.4 521.3,477.4 542.6,470.4 565.2,468.4 571.4,466.6 615.3,445.3 690.4,399.0 740.5,363.9 812.0,316.3M564.4,422.0 671.6,360.1 675.4,359.6 691.7,385.2 692.4,388.9 580.2,454.1 576.4,453.3 564.4,422.0M740.5,300.7 819.4,249.3 879.5,208.0 884.0,204.7 888.3,207.2 903.3,243.0 902.1,246.8 811.9,316.4M830.7,255.6 879.5,220.5 884.0,221.2 892.0,244.3 890.8,248.0 844.4,284.4 840.7,284.4 830.7,255.6M688.6,27.6 709.1,38.1M688.6,27.6C688.9,33.4 688.8,49.7 690.4,62.6C691.9,75.6 694.9,92.3 697.9,105.2C700.8,118.2 704.8,129.5 707.9,140.3C711.0,151.2 713.9,161.6 716.7,170.4C719.4,179.1 721.0,183.5 724.2,192.9C727.3,202.3 733.6,221.1 735.5,226.7M709.1,38.1C709.8,44.3 711.2,63.1 712.9,75.2C714.6,87.2 716.9,99.4 719.2,110.2C721.5,121.1 724.0,130.3 726.7,140.3C729.4,150.3 732.5,160.4 735.5,170.4C738.4,180.4 741.1,191.0 744.2,200.4C747.4,209.8 752.6,222.4 754.2,226.7M724.2,127.8 727.9,140.3M732.9,160.4 736.7,172.9M734.2,81.4 738.0,100.2 743.0,121.5M744.2,86.4 750.5,85.2 755.5,91.5M745.5,110.2 754.2,114.0 756.7,120.3M751.7,117.8 769.3,125.3M743.0,120.3 751.7,117.8M735.5,226.7 L743.0,245.5M743.0,245.5 761.8,258.6M754.2,226.7C755.2,229.7 758.3,239.7 759.8,244.3C761.2,248.9 762.7,251.9 763.0,254.3C763.3,256.7 762.0,257.9 761.8,258.6M743.0,121.5C744.8,128.0 750.3,147.6 754.2,160.4C758.2,173.1 763.2,187.1 766.8,197.9C770.3,208.8 774.1,220.9 775.5,225.5M774.3,221.7 776.8,226.0 796.8,237.3 803.1,235.5M761.8,122.8C763.0,123.4 767.2,123.6 769.3,126.5C771.4,129.5 771.8,132.2 774.3,140.3C776.8,148.5 780.5,162.4 784.3,175.4C788.1,188.3 793.7,208.2 796.8,218.0C800.0,227.8 802.1,231.5 803.1,234.3M801.1,236.0A0.3,0.3 0 1 0 801.6,236.0A0.3,0.3 0 1 0 801.1,236.0ZM984.1,126.1 1004.6,136.6M984.1,126.1C984.4,131.9 984.3,148.2 985.9,161.1C987.4,174.1 990.4,190.8 993.4,203.7C996.3,216.7 1000.3,228.0 1003.4,238.8C1006.5,249.7 1009.4,260.1 1012.2,268.9C1014.9,277.6 1016.5,282.0 1019.7,291.4C1022.8,300.8 1029.1,319.6 1031.0,325.2M1004.6,136.6C1005.3,142.8 1006.7,161.6 1008.4,173.7C1010.1,185.7 1012.4,197.9 1014.7,208.7C1017.0,219.6 1019.5,228.8 1022.2,238.8C1024.9,248.8 1028.0,258.9 1031.0,268.9C1033.9,278.9 1036.6,289.5 1039.7,298.9C1042.9,308.3 1048.1,320.9 1049.7,325.2M1019.7,226.3 1023.4,238.8M1028.4,258.9 1032.2,271.4M1029.7,179.9 1033.5,198.7 1038.5,220.0M1039.7,184.9 1046.0,183.7 1051.0,190.0M1041.0,208.7 1049.7,212.5 1052.2,218.8M1047.2,216.3 1064.8,223.8M1038.5,218.8 1047.2,216.3M1031.0,325.2 L1038.5,344.0M1038.5,344.0 1057.3,357.1M1049.7,325.2C1050.7,328.2 1053.8,338.2 1055.3,342.8C1056.7,347.4 1058.2,350.4 1058.5,352.8C1058.8,355.2 1057.5,356.4 1057.3,357.1M1038.5,220.0C1040.3,226.5 1045.8,246.1 1049.7,258.9C1053.7,271.6 1058.7,285.6 1062.3,296.4C1065.8,307.3 1069.6,319.4 1071.0,324.0M1069.8,320.2 1072.3,324.5 1092.3,335.8 1098.6,334.0M1057.3,221.3C1058.5,221.9 1062.7,222.1 1064.8,225.0C1066.9,228.0 1067.3,230.7 1069.8,238.8C1072.3,247.0 1076.0,260.9 1079.8,273.9C1083.6,286.8 1089.2,306.7 1092.3,316.5C1095.5,326.3 1097.6,330.0 1098.6,332.8M1096.6,334.5A0.3,0.3 0 1 0 1097.1,334.5A0.3,0.3 0 1 0 1096.6,334.5ZM310.0,524.0 317.5,519.0 320.0,520.2 320.0,529.0 327.6,536.5 337.6,539.0 346.4,535.3M310.0,524.0 310.0,537.8 323.8,546.5 337.6,545.3 345.1,542.8M337.6,545.3 495.4,465.1M495.4,462.6C495.1,468.5 494.9,486.4 493.4,497.7C492.0,509.0 488.9,523.2 486.7,530.3C484.4,537.4 481.0,538.6 479.9,540.3M337.6,545.3 337.6,575.4 336.8,610.4 340.1,617.9M337.6,545.3 346.4,549.0 346.9,577.9M337.6,581.6 347.6,579.1 491.7,498.9M391.5,531.5 409.0,522.7 410.2,541.5 392.7,550.3ZM435.3,505.2 452.8,496.4 453.3,515.2 436.5,524.0ZM467.9,432.5 474.1,427.5 479.1,428.8 480.4,437.5 491.7,445.1 494.2,456.3 486.7,461.4 484.2,452.6 472.9,443.8 467.9,432.5M476.6,540.0 478.2,573.0 479.9,601.0 476.6,609.2M344.7,615.0C346.9,614.3 353.8,612.5 357.9,610.9C362.0,609.2 367.5,606.1 369.5,605.1M337.3,548.2 337.3,612.5M344.7,549.9 346.0,581.2 344.7,615.0M984.1,576.5 1109.4,503.8 1110.6,505.1 1116.9,506.3M1116.9,506.3C1117.9,512.4 1121.5,530.3 1123.1,542.6C1124.8,555.0 1126.3,574.0 1126.9,580.2M1126.9,580.2 1125.1,585.7M1125.1,585.7C1120.2,588.8 1105.1,598.3 1095.6,604.0C1086.1,609.8 1078.0,614.3 1068.0,620.3C1058.0,626.4 1046.7,633.9 1035.5,640.4C1024.2,646.8 1006.2,656.0 1000.4,659.1M1000.4,659.1 994.1,659.1 987.8,610.3 984.1,576.5M985.3,578.5 1111.1,506.6M1009.4,594.6A7.8,12.8 20 1 0 1024.0,599.9A7.8,12.8 20 1 0 1009.4,594.6ZM1087.0,545.7A7.8,12.3 20 1 0 1101.6,551.1A7.8,12.3 20 1 0 1087.0,545.7ZM1059.3,652.9 1103.1,633.3 1106.9,636.6 1109.4,652.9 1105.6,659.1 1068.0,679.2 1064.3,677.9 1059.3,652.9M812.6,477.3 867.7,452.7 895.3,436.5 940.4,404.6 945.4,407.6M815.1,481.8 945.4,411.2M945.4,407.6C946.0,413.1 947.5,427.7 949.1,440.2C950.8,452.7 954.4,475.7 955.4,482.8M955.4,482.8 954.2,487.3 830.1,560.5 823.9,559.2M823.9,559.2 818.9,515.4 813.1,478.3M822.6,487.8 935.4,425.2 940.4,426.4 945.4,470.3 944.1,479.1 930.4,490.3 832.6,542.9 828.9,540.4 822.6,487.8M1030.6,487.8 1074.4,466.5 1076.2,485.3 1035.6,509.9 1031.8,507.9 1030.6,487.8M873.8,553.9 966.5,499.5 972.8,500.0 1007.9,531.4 1030.4,525.1 1031.7,528.9 1020.4,541.4 925.2,591.5 921.5,590.2 910.2,587.7 873.8,553.9"/>
<path fill="none" stroke="#000" stroke-width="2.1" d="M1221.5,233.8A10.9,6.0 -8 1 0 1243.2,230.7A10.9,6.0 -8 1 0 1221.5,233.8ZM1229.9,249.6 1239.8,245.3M1202.5,382.3 1217.4,368.0 1223.7,366.7 1239.8,366.4 1248.5,368.0 1262.4,381.6 1262.4,400.3 1247.9,414.6 1231.7,417.0 1218.1,414.6 1202.5,400.3 1202.5,382.3M1216.2,381.0A16.1,9.3 0 1 0 1248.5,381.0A16.1,9.3 0 1 0 1216.2,381.0ZM1203.5,448.4 1215.0,437.9 1226.1,434.8 1237.3,434.8 1247.3,437.9 1257.8,449.1 1257.8,464.6 1244.8,478.2 1217.4,478.2 1203.5,464.6 1203.5,448.4M1215.6,448.4A14.9,8.4 0 1 0 1245.4,448.4A14.9,8.4 0 1 0 1215.6,448.4ZM1203.5,454.0C1202.6,454.9 1199.2,455.9 1198.2,459.0C1197.2,462.1 1195.6,468.5 1197.3,472.7C1199.1,476.8 1203.3,481.0 1208.7,483.8C1214.2,486.6 1222.6,489.4 1229.9,489.4C1237.1,489.4 1246.6,486.6 1252.2,483.8C1257.8,481.0 1261.6,476.7 1263.4,472.7C1265.2,468.6 1264.1,462.7 1263.2,459.6C1262.2,456.5 1258.7,455.0 1257.8,454.0M1224.3,560.9 1232.3,559.7M1224.9,563.1 1231.7,561.8M1209.4,580.3 1213.7,575.9 1222.4,572.8 1232.3,572.8 1240.4,575.9 1245.4,579.7 1245.4,588.4 1241.0,593.3 1233.6,596.4 1221.2,596.4 1213.7,594.0 1209.4,589.0 1209.4,580.3M1219.9,769.3C1218.9,769.8 1215.0,770.8 1213.7,772.4C1212.5,773.9 1211.9,776.3 1212.5,778.6C1213.1,780.9 1215.0,784.3 1217.4,786.0C1219.9,787.8 1224.0,789.2 1227.4,789.2C1230.8,789.2 1235.3,787.8 1237.9,786.0C1240.5,784.3 1242.3,780.9 1242.9,778.6C1243.5,776.3 1242.9,773.8 1241.7,772.4C1240.4,770.9 1236.5,770.3 1235.5,769.9"/>
<path fill="none" stroke="#000" stroke-width="2.1" stroke-dasharray="3.4,3.2" style="stroke-linecap:butt" d="M884.2,552.9 964.5,507.3M887.1,555.4 967.6,509.7M889.9,557.9 970.7,512.0M892.8,560.3 973.8,514.3M895.7,562.8 976.9,516.6M898.5,565.3 980.0,519.0M901.4,567.8 983.1,521.3M904.2,570.3 986.2,523.6M907.1,572.8 989.3,526.0M910.0,575.3 992.4,528.3M912.8,577.7 995.5,530.6"/>
<path fill="none" stroke="#000" stroke-width="2.5" d="M734.2,81.4 741.7,75.2 758.0,77.7 766.8,96.5 761.8,117.8 755.5,122.8M1029.7,179.9 1037.2,173.7 1053.5,176.2 1062.3,195.0 1057.3,216.3 1051.0,221.3M360.1,547.4A13.0,15.8 22 1 0 384.2,557.2A13.0,15.8 22 1 0 360.1,547.4ZM410.9,518.6A12.3,15.8 22 1 0 433.7,527.8A12.3,15.8 22 1 0 410.9,518.6ZM461.0,490.1A12.3,15.8 22 1 0 483.8,499.3A12.3,15.8 22 1 0 461.0,490.1ZM337.3,612.5C338.3,616.9 340.9,630.1 343.1,638.9C345.3,647.7 348.7,658.4 350.5,665.3C352.3,672.1 353.2,677.6 353.8,680.1M353.0,680.1 476.6,609.2M358.7,647.1 466.7,584.5 470.0,583.7 471.2,594.4 465.1,599.3 360.4,657.9ZM1039.2,551.4 1040.0,556.4M1071.8,532.6 1072.5,537.6M1099.3,516.8 1100.1,521.8M1002.9,572.2 1003.6,577.2M1006.3,592.7A11.0,16.0 20 1 0 1027.0,600.3A11.0,16.0 20 1 0 1006.3,592.7ZM1084.0,543.9A11.0,15.5 20 1 0 1104.7,551.4A11.0,15.5 20 1 0 1084.0,543.9ZM1032.9,574.0 1074.3,551.4 1076.8,572.7 1036.7,595.3ZM1041.7,601.5 1073.0,585.2 1075.0,602.8 1044.2,619.1ZM1080.0,580.2 1110.6,565.2 1113.1,582.7 1083.1,597.3ZM1001.6,625.3 1034.2,607.8 1036.7,624.1 1005.4,640.4ZM867.7,455.8 896.5,439.7M1031.1,488.3 1045.6,481.1"/>
<path fill="none" stroke="#000" stroke-width="3" stroke-dasharray="1.5,2.5" style="stroke-linecap:butt" d="M346.4,534.8 400.2,504.4 405.2,501.4 414.0,503.2M417.8,496.4 472.9,461.4 480.4,452.6"/>
<path fill="none" stroke="#000" stroke-width="3" d="M1060.0,653.4 1095.6,637.1M934.0,589.7 934.0,596.5M952.0,580.7 952.0,589.7M969.1,572.2 969.1,579.7M985.8,563.4 985.8,570.4M1001.6,554.2 1001.6,561.2M1016.7,543.4 1016.7,548.7"/>
<path fill="#000" stroke="#000" stroke-width="1" d="M1223.0,228.8 1239.8,227.9 1241.7,231.0 1234.8,231.7 1234.3,238.7 1231.1,238.7 1230.6,231.9 1223.0,232.0ZM1224.3,556.0 1232.3,556.0 1228.6,560.3ZM1216.8,706.5 1221.2,707.7 1221.8,711.4 1218.1,712.0ZM1246.0,687.2 1250.4,687.8 1251.0,689.7 1247.9,691.6ZM1170.2,829.1 1185.1,822.0 1231.7,849.0 1261.9,832.0 1261.9,843.0 1232.1,860.2 1185.1,834.1 1170.2,841.1ZM1213.1,806.1 1224.3,799.3 1228.9,797.2 1228.9,808.0 1224.9,810.8ZM437.6,681.4 451.4,680.7 453.9,685.2 447.6,687.7 440.1,685.2ZM505.2,643.8 517.8,643.1 520.3,647.6 514.0,648.9 507.7,647.1ZM490.2,683.9 500.2,678.9 502.7,681.4 492.7,686.4ZM507.7,673.9 520.3,668.9 522.8,671.4 510.2,676.4ZM761.8,85.9 765.8,85.9 765.8,90.2 761.8,90.2ZM1057.3,184.4 1061.3,184.4 1061.3,188.7 1057.3,188.7ZM414.0,532.8 430.3,525.2 429.0,531.5 419.0,536.5ZM464.1,503.9 475.4,500.2 472.9,506.5 465.4,507.7ZM395.2,545.3 399.0,532.8 404.0,534.8 405.2,540.3 407.7,542.8 396.5,547.8ZM370.2,595.9 459.3,544.3 460.9,547.3 371.9,599.7ZM363.2,654.6 456.8,599.3 457.8,601.6 364.2,657.4ZM977.8,626.6 986.6,629.6 986.6,635.3 978.3,631.6ZM805.1,526.7 810.1,524.9 811.3,534.2 807.6,535.4ZM910.3,486.3 920.3,483.8 929.9,484.6 925.8,487.3 914.8,488.8ZM894.0,497.8 904.0,495.1 913.6,495.8 909.6,498.6 898.5,500.1ZM877.7,507.9 887.8,505.1 897.3,505.9 893.3,508.6 882.2,510.4ZM860.9,517.4 871.5,514.4 881.0,515.1 877.0,517.9 865.5,519.6ZM843.9,527.2 853.9,524.4 864.2,525.2 860.2,527.9 848.4,529.7ZM829.6,535.2 836.4,533.2 842.2,533.9 838.9,536.7 831.9,537.9ZM616.4,77.2 621.4,77.2 620.2,80.2 617.1,79.7ZM409.8,200.7 413.2,199.1 412.8,213.8 410.7,215.3Z"/>

<text transform="translate(662.5,153.8) scale(1.065,1)" font-size="29.2">9</text>
<text transform="translate(805.6,172.9) scale(1.065,1)" font-size="29.2">10</text>
<text transform="translate(949.7,260.4) scale(1.065,1)" font-size="29.2">11</text>
<text transform="translate(1090.2,242.8) scale(1.065,1)" font-size="29.2">12</text>
<text transform="translate(899.8,370.6) scale(1.065,1)" font-size="29.2">20</text>
<text transform="translate(1033.1,448.2) scale(1.065,1)" font-size="29.2">22</text>
<text transform="translate(607.4,495.4) scale(1.065,1)" font-size="29.2">7</text>
<text transform="translate(266.1,646.0) scale(1.065,1)" font-size="29.2">15</text>
<text transform="translate(203.8,700.4) scale(1.065,1)" font-size="29.2">6</text>
<text transform="translate(594.9,591.0) scale(1.065,1)" font-size="29.2">2</text>
<text transform="translate(710.4,680.5) scale(1.065,1)" font-size="29.2">1</text>
<text transform="translate(900.8,653.4) scale(1.065,1)" font-size="29.2">21</text>
<text transform="translate(999.3,712.5) scale(1.065,1)" font-size="29.2">18</text>
<text transform="translate(1071.1,712.5) scale(1.065,1)" font-size="29.2">19</text>
<text transform="translate(1169.0,228.9) scale(1.065,1)" font-size="29.2">17</text>
<text transform="translate(1169.0,302.9) scale(1.065,1)" font-size="29.2">16</text>
<text transform="translate(1169.3,374.9) scale(1.065,1)" font-size="29.2">14</text>
<text transform="translate(1168.2,448.9) scale(1.065,1)" font-size="29.2">13</text>
<text transform="translate(1172.2,522.8) scale(1.065,1)" font-size="29.2">8</text>
<text transform="translate(1172.8,596.8) scale(1.065,1)" font-size="29.2">5</text>
<text transform="translate(1169.6,668.8) scale(1.065,1)" font-size="29.2">4</text>
<text transform="translate(1172.4,743.9) scale(1.065,1)" font-size="29.2">3</text>
<circle cx="815" cy="56" r="24" stroke-width="2" fill="#fff" shape-rendering="auto"/>
<text transform="translate(797.4,65.0) scale(1.065,1)" font-size="29.2">13</text>
<circle cx="1109.5" cy="154.6" r="24" stroke-width="2" fill="#fff" shape-rendering="auto"/>
<text transform="translate(1091.3,163.6) scale(1.065,1)" font-size="29.2">14</text>
<circle cx="652.8" cy="247.6" r="24" stroke-width="2" fill="#fff" shape-rendering="auto"/>
<text transform="translate(643.9,256.6) scale(1.065,1)" font-size="29.2">4</text>
<circle cx="697.9" cy="271.9" r="24" stroke-width="2" fill="#fff" shape-rendering="auto"/>
<text transform="translate(689.2,280.9) scale(1.065,1)" font-size="29.2">8</text>
<circle cx="224.3" cy="473.9" r="24" stroke-width="2" fill="#fff" shape-rendering="auto"/>
<text transform="translate(206.7,482.9) scale(1.065,1)" font-size="29.2">16</text>
<circle cx="270.6" cy="500.7" r="24" stroke-width="2" fill="#fff" shape-rendering="auto"/>
<text transform="translate(253.0,509.7) scale(1.065,1)" font-size="29.2">17</text>
<circle cx="914.9" cy="758.2" r="24" stroke-width="2" fill="#fff" shape-rendering="auto"/>
<text transform="translate(906.5,767.2) scale(1.065,1)" font-size="29.2">3</text>
<circle cx="914.9" cy="809.1" r="24" stroke-width="2" fill="#fff" shape-rendering="auto"/>
<text transform="translate(906.0,818.1) scale(1.065,1)" font-size="29.2">4</text>
<circle cx="914.9" cy="860.5" r="24" stroke-width="2" fill="#fff" shape-rendering="auto"/>
<text transform="translate(906.2,869.5) scale(1.065,1)" font-size="29.2">5</text>
<path stroke-width="1" d="M683.6,145.8 699.6,145.8M787.3,164.1 804.4,164.1M768,86.4 794.3,72.7M1062.9,184.7 1089.2,170.7M982.7,249.1 999.8,249.1M1071.7,233.3 1088.5,233.3M718.7,286.9 740.5,300.7M917.3,378.1 917.3,414.7M1049.4,454 1049.4,472.8M617.8,445.3 617.8,474.1M307.5,636 336.8,636M213.5,646.5 213.5,676.6M603.5,597.5 603.5,694M718.4,687 718.4,715.6M917.7,595.3 917.7,630.3M1018.4,657.9 1018.4,690M1087.6,671.7 1087.6,693M291.9,512.8 310.7,524"/>
<path stroke-width="1.3" d="M1164.5,200.3 1164.5,865.5M1267.5,200.3 1267.5,865.5M1164.5,200.3 1267.5,200.3M1164.5,274.4 1267.5,274.4M1164.5,348.5 1267.5,348.5M1164.5,422.3 1267.5,422.3M1164.5,496.4 1267.5,496.4M1164.5,570.3 1267.5,570.3M1164.5,644.3 1267.5,644.3M1164.5,718.3 1267.5,718.3M1164.5,792.4 1267.5,792.4M1164.5,865.5 1267.5,865.5" style="stroke-linecap:square"/>
<text class="id" transform="translate(1172.2,884.8) scale(1.121,1)" font-size="17.6">00150203</text>

</svg>
</body></html>
